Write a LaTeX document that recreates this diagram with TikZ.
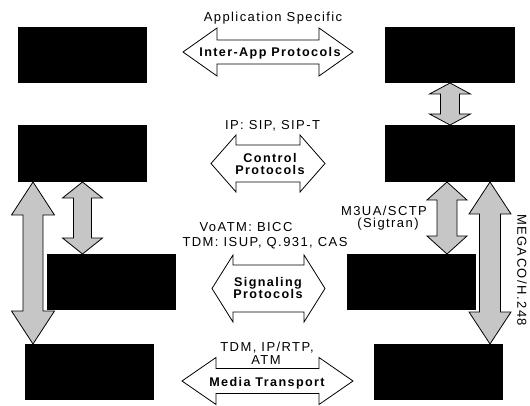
\documentclass[tikz,border=0pt]{standalone}
\usepackage{fontspec}
\usetikzlibrary{calc}
\newfontfamily\lab[LetterSpace=11]{Liberation Sans}
\tikzset{
  box/.style={fill=black,draw=none,inner sep=0pt,outer sep=0pt,minimum width=129pt,minimum height=56pt},
  lbl/.style={inner sep=0pt,anchor=base,font=\lab\fontsize{13}{13}\selectfont},
  blbl/.style={lbl,font=\lab\bfseries\fontsize{12.6}{13}\selectfont},
  garrow/.style={draw=black,line width=0.8pt,fill=gray!45,line join=miter},
  warrow/.style={draw=black,line width=0.8pt,fill=white,line join=miter}
}
% vertical double arrow: #1 top coord, #2 bottom coord, #3 shaft half width, #4 head half width, #5 head length
\newcommand\vdarrow[5]{%
  \draw[garrow] let \p1=(#1), \p2=(#2) in
   (\x1,\y1) -- (\x1+#4,\y1-#5) -- (\x1+#3,\y1-#5) -- (\x1+#3,\y2+#5) -- (\x1+#4,\y2+#5)
   -- (\x1,\y2) -- (\x1-#4,\y2+#5) -- (\x1-#3,\y2+#5) -- (\x1-#3,\y1-#5) -- (\x1-#4,\y1-#5) -- cycle;}
% horizontal double arrow: #1 center coord, #2 half length, #3 head length, #4 shaft half height, #5 head half height
\newcommand\hdarrow[5]{%
  \draw[warrow] let \p1=(#1) in
   (\x1-#2,\y1) -- (\x1-#2+#3,\y1+#5) -- (\x1-#2+#3,\y1+#4) -- (\x1+#2-#3,\y1+#4) -- (\x1+#2-#3,\y1+#5)
   -- (\x1+#2,\y1) -- (\x1+#2-#3,\y1-#5) -- (\x1+#2-#3,\y1-#4) -- (\x1-#2+#3,\y1-#4) -- (\x1-#2+#3,\y1-#5) -- cycle;}
\begin{document}
\begin{tikzpicture}[x=1pt,y=-1pt]
\useasboundingbox (0,0) rectangle (530,406);
% boxes
\node[box] (L1) at (82.5,55) {};
\node[box,minimum height=57pt] (L2) at (82.5,153.5) {};
\node[box] (L3) at (111.5,282) {};
\node[box] (L4) at (89.5,372) {};
\node[box,minimum width=130pt] (R1) at (450,55) {};
\node[box,minimum width=130pt,minimum height=57pt] (R2) at (450,153.5) {};
\node[box] (R3) at (411.5,282) {};
\node[box] (R4) at (438.5,372) {};
% vertical gray arrows
\coordinate (a1t) at (R1.south); \coordinate (a1b) at (R2.north);
\vdarrow{a1t}{a1b}{9.5pt}{20.5pt}{11pt}
\coordinate (a2t) at (L2.south); \coordinate (a2b) at (L3.north -| a2t);
\vdarrow{a2t}{a2b}{9pt}{20pt}{16pt}
\coordinate (a3t) at ([xshift=-49.5pt]L2.south); \coordinate (a3b) at (L4.north -| a3t);
\vdarrow{a3t}{a3b}{10pt}{21.5pt}{33pt}
\coordinate (a4t) at ([xshift=-3pt]R2.south); \coordinate (a4b) at (R3.north -| a4t);
\vdarrow{a4t}{a4b}{10pt}{20pt}{18pt}
\coordinate (a5t) at ([xshift=40pt]R2.south); \coordinate (a5b) at (R4.north -| a5t);
\vdarrow{a5t}{a5b}{10.5pt}{21pt}{32pt}
% horizontal white arrows
\coordinate (h1) at (268,52);
\hdarrow{h1}{85pt}{34pt}{12pt}{24pt}
\coordinate (h2) at (268,163.5);
\hdarrow{h2}{57pt}{25pt}{18.5pt}{28.5pt}
\coordinate (h3) at (268.5,288.5);
\hdarrow{h3}{56.5pt}{21pt}{23.5pt}{33.5pt}
\coordinate (h4) at (267.5,381);
\hdarrow{h4}{85.5pt}{34pt}{12.5pt}{23.5pt}
% labels
\node[lbl] (t1) at (273,21.7) {Application Specific};
\node[lbl] (t2) at (272.5,129.3) {IP: SIP, SIP-T};
\node[lbl] (t3) at (246,232) {VoATM: BICC};
\node[lbl] (t4) at (265,246) {TDM: ISUP, Q.931, CAS};
\node[lbl] (t5) at (384,215) {M3UA/SCTP};
\node[lbl] (t6) at (388,227) {(Sigtran)};
\node[lbl,anchor=center,rotate=-90] (t7) at (522,270) {MEGACO/H.248};
\node[lbl] (t8) at (267,351.5) {TDM, IP/RTP,};
\node[lbl] (t9) at (266,364.5) {ATM};
\node[blbl] (b1) at (270,57) {Inter-App Protocols};
\node[blbl] (b2) at (270,162.7) {Control};
\node[blbl] (b3) at (270,174.3) {Protocols};
\node[blbl] (b4) at (268,286.7) {Signaling};
\node[blbl] (b5) at (268,298) {Protocols};
\node[blbl] (b6) at (267,386) {Media Transport};
\end{tikzpicture}
\end{document}
